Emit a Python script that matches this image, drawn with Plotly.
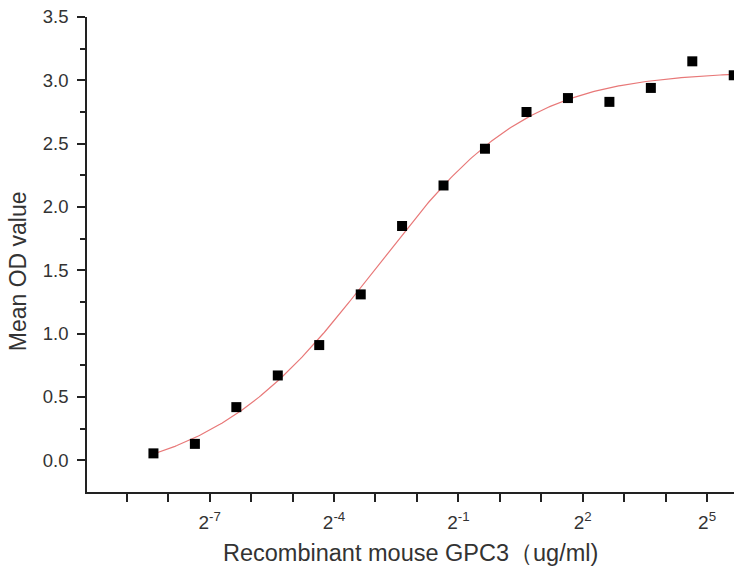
import numpy as np
import plotly.graph_objects as go

# Data
concentration = [0.00305, 0.0061, 0.0122, 0.0244, 0.0488, 0.0977, 0.195, 0.39,
                 0.78, 1.5625, 3.125, 6.25, 12.5, 25.0, 50.0]
mean_od = [0.055, 0.13, 0.42, 0.67, 0.91, 1.31, 1.85, 2.17,
           2.46, 2.75, 2.86, 2.83, 2.94, 3.15, 3.04]

x_tick_exponents = [-9, -8, -7, -6, -5, -4, -3, -2, -1, 0, 1, 2, 3, 4, 5]
x_labeled_exponents = [-7, -4, -1, 2, 5]
y_major = [0.0, 0.5, 1.0, 1.5, 2.0, 2.5, 3.0, 3.5]
y_minor = [0.25, 0.75, 1.25, 1.75, 2.25, 2.75, 3.25]

# Logistic dose-response fit (least squares) on log2 concentration
L = np.log2(np.array(concentration))
Y = np.array(mean_od)


def model(p, x):
    B, T, L50, h, s = p
    return B + (T - B) / (1.0 + 2.0 ** (h * (L50 - x))) ** abs(s)


# start from a coarse 4PL grid search
best = None
T_g, L50_g, h_g = np.meshgrid(np.linspace(2.9, 3.3, 41), np.linspace(-4.5, -1.5, 61),
                              np.linspace(0.3, 1.3, 51), indexing="ij")
for B in np.linspace(-0.5, 0.2, 36):
    pred = B + (T_g[..., None] - B) / (1 + 2 ** (h_g[..., None] * (L50_g[..., None] - L)))
    sse = ((pred - Y) ** 2).sum(axis=-1)
    idx = np.unravel_index(np.argmin(sse), sse.shape)
    if best is None or sse[idx] < best[0]:
        best = (sse[idx], B, T_g[idx], L50_g[idx], h_g[idx])
p = np.array([best[1], best[2], best[3], best[4], 1.0])

# Levenberg-Marquardt refinement with asymmetry parameter
lam = 1e-2
for _ in range(400):
    r = Y - model(p, L)
    J = np.empty((len(L), len(p)))
    for k in range(len(p)):
        dp = np.zeros_like(p)
        dp[k] = 1e-6
        J[:, k] = (model(p + dp, L) - model(p - dp, L)) / 2e-6
    A = J.T @ J
    g = J.T @ r
    step = np.linalg.solve(A + lam * np.diag(np.diag(A) + 1e-9), g)
    p_new = p + step
    if np.sum((Y - model(p_new, L)) ** 2) < np.sum(r ** 2):
        p = p_new
        lam *= 0.5
    else:
        lam *= 4.0

Lc = np.linspace(L.min(), L.max() + 0.1, 300)
yc = model(p, Lc)
xc = 2.0 ** Lc

font_family = "Liberation Sans, Arial, sans-serif"
text_color = "#333333"

fig = go.Figure()
fig.add_trace(go.Scatter(x=xc, y=yc, mode="lines",
                         line=dict(color="#e87878", width=1.2),
                         hoverinfo="skip", showlegend=False))
fig.add_trace(go.Scatter(x=concentration, y=mean_od, mode="markers",
                         marker=dict(symbol="square", size=10, color="black"),
                         showlegend=False, cliponaxis=False))

l2 = np.log10(2)
fig.update_xaxes(
    type="log",
    range=[-9.96 * l2, 5.65 * l2],
    tickmode="array",
    tickvals=[2.0 ** e for e in x_tick_exponents],
    ticktext=[(f"2<sup>{e}</sup>" if e in x_labeled_exponents else "") for e in x_tick_exponents],
    ticks="outside", ticklen=8, tickwidth=1.5, tickcolor="#222",
    showline=True, linecolor="#222", linewidth=1.5,
    showgrid=False, zeroline=False,
    tickfont=dict(family=font_family, size=19, color=text_color),
    ticklabelstandoff=4,
)
fig.update_yaxes(
    range=[-0.25, 3.5],
    tickmode="array",
    tickvals=y_major,
    ticktext=[f"{v:.1f}" for v in y_major],
    ticks="outside", ticklen=8, tickwidth=1.5, tickcolor="#222",
    minor=dict(tickmode="array", tickvals=y_minor, ticks="outside", ticklen=5,
               tickwidth=1.5, tickcolor="#222"),
    showline=True, linecolor="#222", linewidth=1.5,
    showgrid=False, zeroline=False,
    tickfont=dict(family=font_family, size=18.5, color=text_color),
    ticklabelstandoff=5,
)

fig.add_annotation(text="Mean OD value", xref="paper", yref="paper",
                   x=(18 - 87) / 647, y=(492 - 271) / 475.5,
                   xanchor="center", yanchor="middle", textangle=-90, showarrow=False,
                   font=dict(family=font_family, size=23, color=text_color))
fig.add_annotation(text="Recombinant mouse GPC3（ug/ml)", xref="paper", yref="paper",
                   x=(410 - 87) / 647, y=-(553 - 492) / 475.5,
                   xanchor="center", yanchor="middle", showarrow=False,
                   font=dict(family=font_family, size=23.5, color=text_color))

fig.update_layout(
    width=734, height=573,
    margin=dict(l=87, r=0, t=16.5, b=81),
    paper_bgcolor="white", plot_bgcolor="white",
)
fig.write_html("out.html", config={"displayModeBar": False},
               post_script="document.body.style.margin='0px';document.body.style.overflow='hidden';")
